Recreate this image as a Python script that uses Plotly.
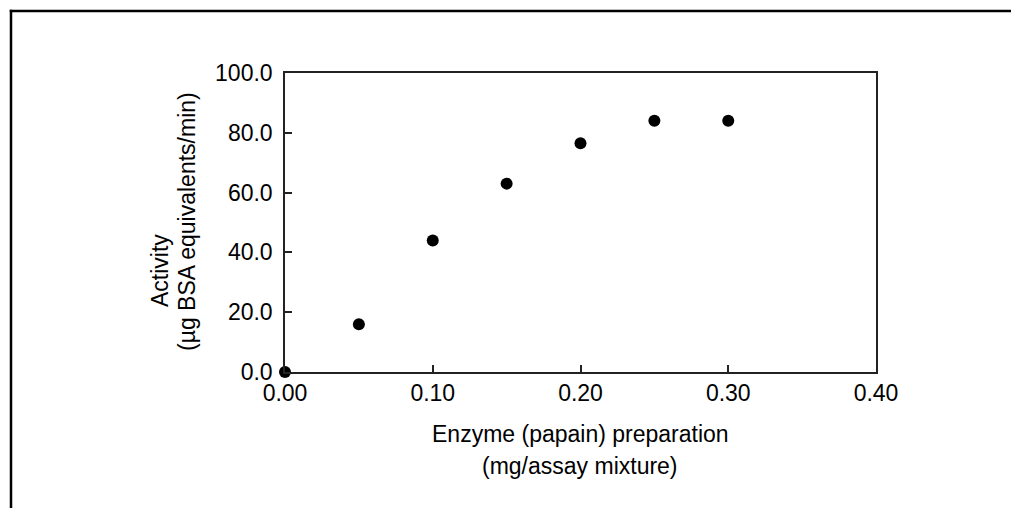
import plotly.graph_objects as go

enzyme_mg = [0.00, 0.05, 0.10, 0.15, 0.20, 0.25, 0.30]
activity = [0.0, 16.0, 44.0, 63.0, 76.5, 84.0, 84.0]
x_ticks = [0.0, 0.1, 0.2, 0.3, 0.4]
x_tick_labels = ["0.00", "0.10", "0.20", "0.30", "0.40"]
y_ticks = [0, 20, 40, 60, 80, 100]
y_tick_labels = ["0.0", "20.0", "40.0", "60.0", "80.0", "100.0"]

OFF = 8  # page body margin offset
W, H = 1021 - 2 * OFF, 516 - 2 * OFF
# plot area in screen pixels
X0, X1, Y0, Y1 = 285, 876, 73, 372
L, T = X0 - OFF, Y0 - OFF
R, B = W - (X1 - OFF), H - (Y1 - OFF)
pw, ph = X1 - X0, Y1 - Y0

def px(x):
    return (x - X0) / pw

def py(y):
    return (Y1 - y) / ph

FAM = "Liberation Sans, Arial, Helvetica, sans-serif"
font = dict(family=FAM, size=23, color="black")

fig = go.Figure()
fig.add_trace(go.Scatter(
    x=enzyme_mg, y=activity, mode="markers",
    marker=dict(size=12, color="black"),
    cliponaxis=False, showlegend=False,
))

axis_common = dict(
    showgrid=False, zeroline=False, showline=True, linecolor="#222", linewidth=1.5,
    mirror=True, ticks="inside", ticklen=7, tickwidth=1.5, tickcolor="#222",
    tickfont=font, automargin=False,
)
frame = dict(color="black", width=2.5)
fig.update_layout(
    width=W, height=H,
    margin=dict(l=L, r=R, t=T, b=B, autoexpand=False),
    paper_bgcolor="white", plot_bgcolor="white",
    font=font,
    modebar=dict(bgcolor="rgba(255,255,255,0)", color="rgba(255,255,255,0)",
                 activecolor="rgba(255,255,255,0)"),
    xaxis=dict(range=[0, 0.4], tickvals=x_ticks, ticktext=x_tick_labels, **axis_common),
    yaxis=dict(range=[0, 100], tickvals=y_ticks, ticktext=y_tick_labels,
               ticklabelstandoff=6, **axis_common),
    shapes=[
        dict(type="line", xref="paper", yref="paper",
             x0=px(11), y0=py(530), x1=px(11), y1=py(9.75), line=frame),
        dict(type="line", xref="paper", yref="paper",
             x0=px(9.75), y0=py(11), x1=px(1011), y1=py(11), line=frame),
    ],
    annotations=[
        dict(text="Enzyme (papain) preparation", xref="paper", yref="paper",
             x=px(580), y=py(434), showarrow=False, font=font, xanchor="center", yanchor="middle"),
        dict(text="(mg/assay mixture)", xref="paper", yref="paper",
             x=px(580), y=py(466), showarrow=False, font=font, xanchor="center", yanchor="middle"),
        dict(text="Activity", xref="paper", yref="paper", textangle=-90,
             x=px(160), y=py(271), showarrow=False, font=font, xanchor="center", yanchor="middle"),
        dict(text="(µg BSA equivalents/min)", xref="paper", yref="paper", textangle=-90,
             x=px(187), y=py(222), showarrow=False, font=font, xanchor="center", yanchor="middle"),
    ],
)
fig.write_html("out.html")
